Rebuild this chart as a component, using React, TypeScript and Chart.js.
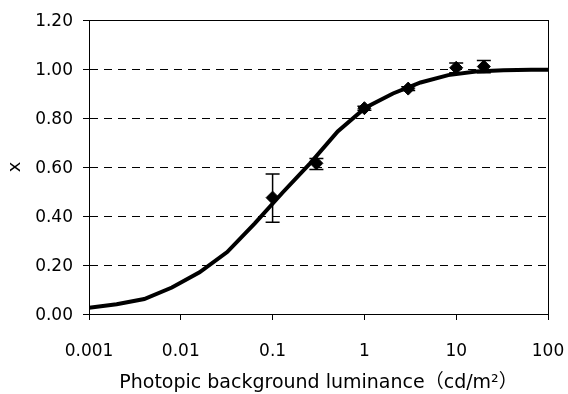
import React, { useEffect, useRef } from "react";
import { Chart, registerables } from "chart.js";

Chart.register(...registerables);

// Fitted response curve (luminance in cd/m², response x)
const curveLum = [0.001, 0.002, 0.004, 0.008, 0.016, 0.032, 0.064, 0.128, 0.256, 0.512, 1.024, 2.048, 4.096, 8.192, 16.384, 32.768, 65.536, 100];
const curveVal = [0.025, 0.04, 0.061, 0.108, 0.17, 0.253, 0.37, 0.495, 0.615, 0.745, 0.842, 0.9, 0.945, 0.975, 0.99, 0.995, 0.997, 0.997];

// Measured points with error bar bounds
const measLum = [0.1, 0.3, 1, 3, 10, 20];
const measVal = [0.475, 0.615, 0.84, 0.92, 1.005, 1.01];
const measLow = [0.375, 0.59, 0.832, 0.912, 0.985, 0.985];
const measHigh = [0.571, 0.635, 0.848, 0.928, 1.025, 1.035];

const xTickValues = [0.001, 0.01, 0.1, 1, 10, 100];
const xTickLabels = ["0.001", "0.01", "0.1", "1", "10", "100"];

const FONT = "'DejaVu Sans', 'Noto Sans CJK JP', sans-serif";

const frameAndErrorBars = {
  id: "frameAndErrorBars",
  beforeDatasetsDraw(chart: any) {
    const { ctx, chartArea } = chart;
    ctx.save();
    ctx.strokeStyle = "#000";
    ctx.lineWidth = 1;
    ctx.strokeRect(
      Math.round(chartArea.left) + 0.5,
      Math.round(chartArea.top) + 0.5,
      Math.round(chartArea.right - chartArea.left),
      Math.round(chartArea.bottom - chartArea.top)
    );
    ctx.restore();
  },
  afterDatasetsDraw(chart: any) {
    const { ctx, scales } = chart;
    const xs = scales.x;
    const ys = scales.y;
    ctx.save();
    ctx.strokeStyle = "#000";
    ctx.lineWidth = 1.5;
    measLum.forEach((lum, i) => {
      const px = xs.getPixelForValue(lum);
      const top = ys.getPixelForValue(measHigh[i]);
      const bot = ys.getPixelForValue(measLow[i]);
      const cap = 7;
      ctx.beginPath();
      ctx.moveTo(px, top);
      ctx.lineTo(px, bot);
      ctx.moveTo(px - cap, top);
      ctx.lineTo(px + cap, top);
      ctx.moveTo(px - cap, bot);
      ctx.lineTo(px + cap, bot);
      ctx.stroke();
    });
    ctx.restore();
  },
};

export default function App() {
  const canvasRef = useRef<HTMLCanvasElement | null>(null);

  useEffect(() => {
    document.body.style.margin = "0";
    const canvas = canvasRef.current;
    if (!canvas) return;
    const chart = new Chart(canvas, {
      type: "scatter",
      data: {
        datasets: [
          {
            label: "measured",
            data: measLum.map((x, i) => ({ x, y: measVal[i] })),
            pointStyle: "rectRot",
            pointRadius: 6.5,
            backgroundColor: "#000",
            borderColor: "#000",
            borderWidth: 1,
            showLine: false,
            order: 1,
          },
          {
            label: "fit",
            data: curveLum.map((x, i) => ({ x, y: curveVal[i] })),
            showLine: true,
            borderColor: "#000",
            borderWidth: 4,
            pointRadius: 0,
            tension: 0,
            order: 0,
          },
        ],
      },
      options: {
        responsive: false,
        animation: false,
        devicePixelRatio: 1,
        layout: { padding: { left: 0, top: 20, right: 20, bottom: 0 } },
        plugins: {
          legend: { display: false },
          tooltip: { enabled: false },
        },
        scales: {
          x: {
            type: "logarithmic",
            min: 0.001,
            max: 100,
            afterBuildTicks: (scale: any) => {
              scale.ticks = xTickValues.map((v) => ({ value: v, major: true }));
            },
            afterFit: (scale: any) => {
              scale.height = 80;
              scale.paddingLeft = 0;
              scale.paddingRight = 0;
            },
            ticks: {
              autoSkip: false,
              maxRotation: 0,
              padding: 21,
              color: "#000",
              font: { family: FONT, size: 17 },
              callback: (value: any) => {
                const idx = xTickValues.findIndex((v) => Math.abs(v - value) / v < 1e-6);
                return idx >= 0 ? xTickLabels[idx] : "";
              },
            },
            grid: {
              drawOnChartArea: false,
              drawTicks: true,
              tickLength: 6,
              tickColor: "#000",
              color: "#000",
            },
            border: { display: true, color: "#000", width: 1 },
            title: {
              display: true,
              text: "Photopic background luminance（cd/m²）",
              color: "#000",
              font: { family: FONT, size: 19 },
              padding: { top: 0, bottom: 0 },
            },
          },
          y: {
            min: 0,
            max: 1.2,
            afterFit: (scale: any) => {
              scale.width = 89;
              scale.paddingTop = 0;
              scale.paddingBottom = 0;
            },
            ticks: {
              stepSize: 0.2,
              padding: 10,
              labelOffset: 2,
              color: "#000",
              font: { family: FONT, size: 17 },
              callback: (value: any) => Number(value).toFixed(2),
            },
            grid: {
              drawOnChartArea: true,
              drawTicks: true,
              tickLength: 6,
              tickColor: "#000",
              color: "#000",
              lineWidth: 1,
            },
            border: { display: true, color: "#000", width: 1, dash: [8, 6] },
            title: {
              display: true,
              text: "x",
              color: "#000",
              font: { family: FONT, size: 18 },
              padding: { top: 5, bottom: 0 },
            },
          },
        },
      },
      plugins: [frameAndErrorBars],
    });
    return () => chart.destroy();
  }, []);

  return (
    <div style={{ position: "fixed", left: 0, top: 0, width: 568, height: 394, background: "#fff" }}>
      <canvas ref={canvasRef} width={568} height={394} style={{ width: 568, height: 394 }} />
    </div>
  );
}
